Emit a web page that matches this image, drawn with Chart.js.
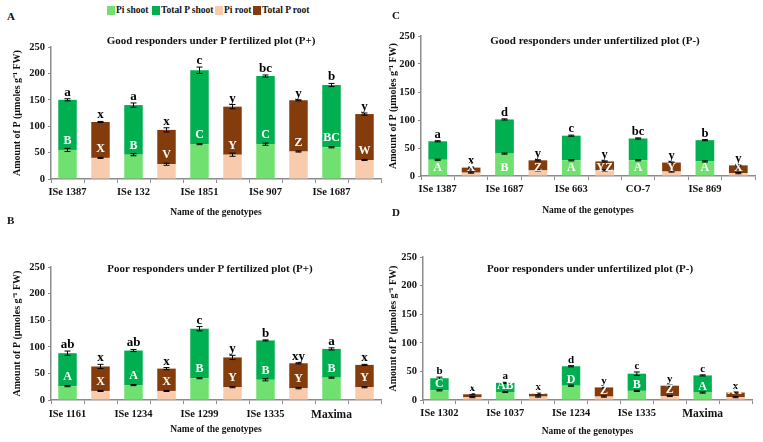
<!DOCTYPE html>
<html>
<head>
<meta charset="utf-8">
<script src="https://cdn.jsdelivr.net/npm/chart.js"></script>
<style>
  body { margin: 0; background: #fff; }
  #page { position: relative; width: 763px; height: 442px; overflow: hidden; font-family: "Liberation Serif", "Times New Roman", serif; font-weight: bold; color: #111; }
  .panel { position: absolute; }
  .txt { position: absolute; white-space: nowrap; z-index: 2; }
  .tag { font-size: 11px; }
  .ttl { font-size: 11px; transform: translate(-50%, -50%); }
  .leg { font-size: 9.5px; top: 5px; }
  .sq { position: absolute; top: 6px; width: 8px; height: 9px; z-index: 2; }
</style>
</head>
<body>
<div id="page">
  <span class="sq" style="left:107px;background:#70e070"></span><span class="txt leg" style="left:116px">Pi shoot</span>
  <span class="sq" style="left:152px;background:#00b050"></span><span class="txt leg" style="left:161px">Total P shoot</span>
  <span class="sq" style="left:215px;background:#f8cbad"></span><span class="txt leg" style="left:224px">Pi root</span>
  <span class="sq" style="left:253px;background:#843c0c"></span><span class="txt leg" style="left:262px">Total P root</span>

  <span class="txt tag" style="left:7px;top:10px">A</span>
  <span class="txt tag" style="left:7px;top:214px">B</span>
  <span class="txt tag" style="left:392px;top:9px">C</span>
  <span class="txt tag" style="left:392px;top:206px">D</span>

  <span class="txt ttl" style="left:211px;top:40px">Good responders under P fertilized plot (P+)</span>
  <span class="txt ttl" style="left:210px;top:268px">Poor responders under P fertilized plot (P+)</span>
  <span class="txt ttl" style="left:595px;top:40px">Good responders under unfertilized plot (P-)</span>
  <span class="txt ttl" style="left:590px;top:268px">Poor responders under unfertilized plot (P-)</span>

  <div class="panel" style="left:0;top:28px;width:385px;height:196px"><canvas id="cA"></canvas></div>
  <div class="panel" style="left:0;top:250px;width:385px;height:192px"><canvas id="cB"></canvas></div>
  <div class="panel" style="left:380px;top:20px;width:383px;height:205px"><canvas id="cC"></canvas></div>
  <div class="panel" style="left:380px;top:240px;width:383px;height:202px"><canvas id="cD"></canvas></div>
</div>
<script>
const seriesNames = ['Pi shoot', 'Total P shoot', 'Pi root', 'Total P root'];
const seriesColors = ['#70e070', '#00b050', '#f8cbad', '#843c0c'];
const yTicks = [0, 50, 100, 150, 200, 250];

// A - good responders, P fertilized
const genotypesA = ['ISe 1387', 'ISe 132', 'ISe 1851', 'ISe 907', 'ISe 1687'];
const piShootA = [55, 46, 66, 66, 60];
const totalShootA = [150, 140, 206, 195, 178];
const piRootA = [40, 28, 46, 52, 36];
const totalRootA = [108, 93, 137, 149, 123];
const errPiShootA = [3, 2, 1, 2, 1];
const errTotalShootA = [2, 4, 6, 2, 3];
const errPiRootA = [1, 2, 3, 1, 1];
const errTotalRootA = [1, 4, 4, 1, 2];
const lowerA = ['a', 'x', 'a', 'x', 'c', 'y', 'bc', 'y', 'b', 'y'];
const upperA = ['B', 'X', 'B', 'V', 'C', 'Y', 'C', 'Z', 'BC', 'W'];

// B - poor responders, P fertilized
const genotypesB = ['ISe 1161', 'ISe 1234', 'ISe 1299', 'ISe 1335', 'Maxima'];
const piShootB = [26, 28, 41, 38, 42];
const totalShootB = [88, 93, 134, 112, 96];
const piRootB = [17, 17, 24, 22, 24];
const totalRootB = [63, 59, 80, 69, 66];
const errPiShootB = [1, 1, 1, 2, 1];
const errTotalShootB = [4, 2, 4, 1, 2];
const errPiRootB = [1, 1, 1, 1, 1];
const errTotalRootB = [4, 2, 4, 1, 1];
const lowerB = ['ab', 'x', 'ab', 'x', 'c', 'y', 'b', 'xy', 'a', 'x'];
const upperB = ['A', 'X', 'A', 'X', 'B', 'Y', 'B', 'Y', 'B', 'Y'];

// C - good responders, unfertilized
const genotypesC = ['ISe 1387', 'ISe 1687', 'ISe 663', 'CO-7', 'ISe 869'];
const piShootC = [29, 40, 28, 28, 26];
const totalShootC = [62, 101, 72, 67, 64];
const piRootC = [6, 10, 10, 8, 5];
const totalRootC = [15, 28, 26, 24, 19];
const errPiShootC = [1, 1, 1, 1, 1];
const errTotalShootC = [1, 1, 1, 1, 1];
const errPiRootC = [1, 1, 1, 1, 1];
const errTotalRootC = [1, 1, 1, 1, 1];
const lowerC = ['a', 'x', 'd', 'y', 'c', 'y', 'bc', 'y', 'b', 'y'];
const upperC = ['A', 'X', 'B', 'Z', 'A', 'YZ', 'A', 'Y', 'A', 'X'];

// D - poor responders, unfertilized
const genotypesD = ['ISe 1302', 'ISe 1037', 'ISe 1234', 'ISe 1335', 'Maxima'];
const piShootD = [17, 14, 25, 16, 13];
const totalShootD = [38, 30, 59, 46, 43];
const piRootD = [5, 6, 6, 7, 5];
const totalRootD = [10, 11, 22, 25, 13];
const errPiShootD = [1, 1, 1, 1, 1];
const errTotalShootD = [2, 1, 1, 3, 1];
const errPiRootD = [1, 1, 1, 1, 1];
const errTotalRootD = [1, 1, 1, 1, 1];
const lowerD = ['b', 'x', 'a', 'x', 'd', 'y', 'c', 'y', 'c', 'x'];
const upperD = ['C', 'XY', 'AB', 'XY', 'D', 'Z', 'B', 'Z', 'A', 'XY'];

const FONT = '"Liberation Serif", "Times New Roman", serif';

// error bars and significance letters
const marksPlugin = {
  id: 'marks',
  afterDatasetsDraw(chart, args, opts) {
    const { ctx, scales: { x, y } } = chart;
    ctx.save();
    for (let i = 0; i < opts.pi.length; i++) {
      const cx = x.getPixelForValue(i);
      // error bars
      ctx.strokeStyle = '#000';
      ctx.lineWidth = 1;
      [[opts.pi[i], opts.errPi[i]], [opts.total[i], opts.errTotal[i]]].forEach(([v, e]) => {
        const y1 = y.getPixelForValue(v + e), y2 = y.getPixelForValue(v - e);
        ctx.beginPath();
        ctx.moveTo(cx, y1); ctx.lineTo(cx, y2);
        ctx.moveTo(cx - 3, y1); ctx.lineTo(cx + 3, y1);
        ctx.moveTo(cx - 3, y2); ctx.lineTo(cx + 3, y2);
        ctx.stroke();
      });
      // lowercase letters above the bar
      ctx.fillStyle = '#000';
      ctx.font = 'bold ' + opts.lowerSize + 'px ' + FONT;
      ctx.textAlign = 'center';
      ctx.textBaseline = 'alphabetic';
      ctx.fillText(opts.lower[i], cx, y.getPixelForValue(opts.total[i] + opts.errTotal[i]) - 3);
      // uppercase letters inside the bar
      ctx.fillStyle = '#fff';
      ctx.font = 'bold 12px ' + FONT;
      ctx.textBaseline = 'middle';
      const cy = opts.upperMode === 'base'
        ? y.getPixelForValue(0) - 8
        : y.getPixelForValue(opts.pi[i]) - opts.upperGap;
      ctx.fillText(opts.upper[i], cx, cy);
    }
    ctx.restore();
  }
};

function interleave(shoot, root) {
  const out = [];
  shoot.forEach((v, i) => { out.push(v, root[i]); });
  return out;
}

function makePanel(id, p) {
  const labels = [];
  p.genotypes.forEach(g => { labels.push(g, ''); });
  const shootPart = (arr) => labels.map((_, k) => k % 2 === 0 ? arr[k / 2] : null);
  const rootPart = (arr) => labels.map((_, k) => k % 2 === 1 ? arr[(k - 1) / 2] : null);
  const series = [
    shootPart(p.piShoot),
    shootPart(p.totalShoot.map((t, i) => t - p.piShoot[i])),
    rootPart(p.piRoot),
    rootPart(p.totalRoot.map((t, i) => t - p.piRoot[i]))
  ];
  return new Chart(document.getElementById(id), {
    type: 'bar',
    data: {
      labels: labels,
      datasets: series.map((d, k) => ({
        label: seriesNames[k],
        data: d,
        backgroundColor: seriesColors[k],
        stack: 'p',
        barPercentage: 0.56,
        categoryPercentage: 1
      }))
    },
    options: {
      responsive: true,
      maintainAspectRatio: false,
      animation: false,
      layout: { padding: p.padding },
      plugins: {
        legend: { display: false },
        tooltip: { enabled: false },
        marks: {
          pi: interleave(p.piShoot, p.piRoot),
          total: interleave(p.totalShoot, p.totalRoot),
          errPi: interleave(p.errPiShoot, p.errPiRoot),
          errTotal: interleave(p.errTotalShoot, p.errTotalRoot),
          lower: p.lower,
          upper: p.upper,
          lowerSize: p.lowerSize,
          upperMode: p.upperMode,
          upperGap: p.upperGap
        }
      },
      scales: {
        x: {
          stacked: true,
          grid: { display: true, drawOnChartArea: false, drawTicks: true, tickLength: 4, color: '#8c8c8c', offset: true },
          border: { color: '#8c8c8c', width: 1.5 },
          ticks: {
            autoSkip: false, maxRotation: 0, minRotation: 0, padding: p.xTickPad, color: '#111',
            font: (c) => ({ family: FONT, weight: 'bold', size: c.tick && c.tick.label === 'Maxima' ? 11.5 : 10.5 })
          },
          title: { display: true, text: 'Name of the genotypes', color: '#111', font: { family: FONT, weight: 'bold', size: 9.5 }, padding: { top: 0, bottom: p.xTitlePad } },
          afterFit: (s) => { s.height = p.xHeight; }
        },
        y: {
          stacked: true,
          min: 0, max: 250,
          afterBuildTicks: (s) => { s.ticks = yTicks.map(v => ({ value: v })); },
          grid: { display: true, drawOnChartArea: false, drawTicks: true, tickLength: 3, color: '#8c8c8c' },
          border: { color: '#8c8c8c', width: 1.5 },
          ticks: { padding: 3, color: '#111', font: { family: FONT, weight: 'bold', size: 10.5 } },
          title: { display: true, text: 'Amount of P (µmoles g⁻¹ FW)', color: '#111', font: { family: FONT, weight: 'bold', size: 10 }, padding: { top: p.yTitlePad, bottom: 0 } },
          afterFit: (s) => { s.width = p.yWidth; }
        }
      }
    },
    plugins: [marksPlugin]
  });
}

makePanel('cA', {
  genotypes: genotypesA, piShoot: piShootA, totalShoot: totalShootA, piRoot: piRootA, totalRoot: totalRootA,
  errPiShoot: errPiShootA, errTotalShoot: errTotalShootA, errPiRoot: errPiRootA, errTotalRoot: errTotalRootA,
  lower: lowerA, upper: upperA, lowerSize: 13, upperMode: 'pi', upperGap: 9,
  padding: { top: 19, right: 4, left: 0, bottom: 0 }, xHeight: 45, yWidth: 51, xTickPad: 3, xTitlePad: 6, yTitlePad: 11
});
makePanel('cB', {
  genotypes: genotypesB, piShoot: piShootB, totalShoot: totalShootB, piRoot: piRootB, totalRoot: totalRootB,
  errPiShoot: errPiShootB, errTotalShoot: errTotalShootB, errPiRoot: errPiRootB, errTotalRoot: errTotalRootB,
  lower: lowerB, upper: upperB, lowerSize: 13, upperMode: 'pi', upperGap: 9,
  padding: { top: 17, right: 4, left: 0, bottom: 0 }, xHeight: 42, yWidth: 51, xTickPad: 4, xTitlePad: 7, yTitlePad: 11
});
makePanel('cC', {
  genotypes: genotypesC, piShoot: piShootC, totalShoot: totalShootC, piRoot: piRootC, totalRoot: totalRootC,
  errPiShoot: errPiShootC, errTotalShoot: errTotalShootC, errPiRoot: errPiRootC, errTotalRoot: errTotalRootC,
  lower: lowerC, upper: upperC, lowerSize: 12.5, upperMode: 'base', upperGap: 0,
  padding: { top: 16, right: 8, left: 0, bottom: 0 }, xHeight: 49, yWidth: 41, xTickPad: 3, xTitlePad: 9, yTitlePad: 7
});
makePanel('cD', {
  genotypes: genotypesD, piShoot: piShootD, totalShoot: totalShootD, piRoot: piRootD, totalRoot: totalRootD,
  errPiShoot: errPiShootD, errTotalShoot: errTotalShootD, errPiRoot: errPiRootD, errTotalRoot: errTotalRootD,
  lower: lowerD, upper: upperD, lowerSize: 11, upperMode: 'pi', upperGap: 6,
  padding: { top: 17, right: 11, left: 0, bottom: 0 }, xHeight: 42, yWidth: 43, xTickPad: 3, xTitlePad: 5, yTitlePad: 7
});
</script>
</body>
</html>
